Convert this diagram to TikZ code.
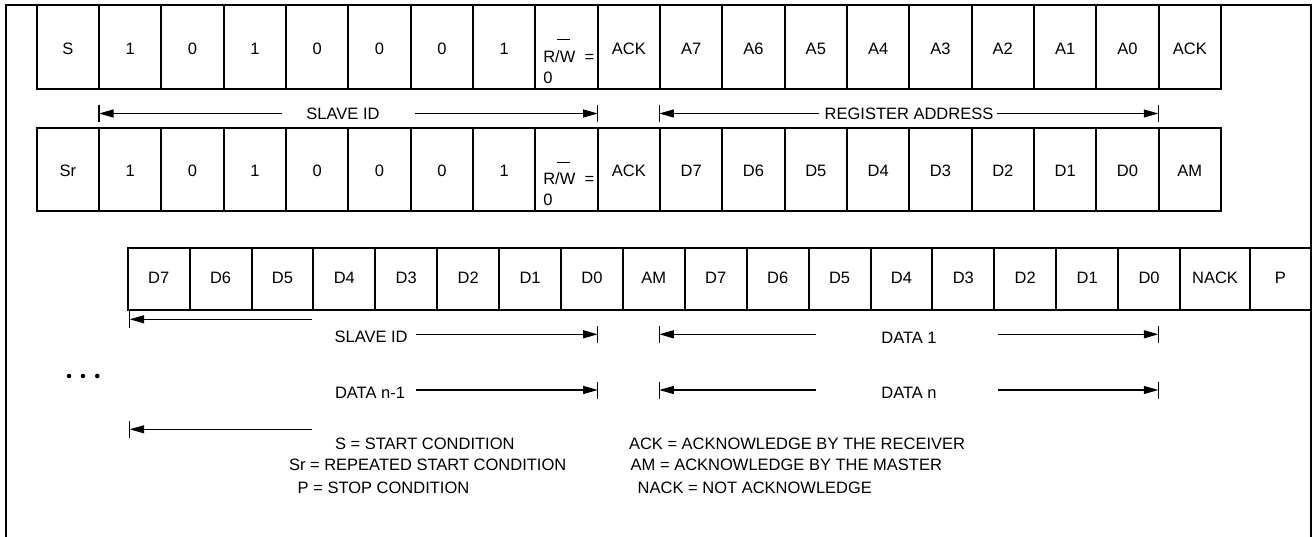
\documentclass[tikz,border=0pt]{standalone}
\usepackage{fontspec}
\setmainfont{Liberation Sans}
\usetikzlibrary{arrows.meta}
\newcommand\dimtick[1]{\draw[dimline] (#1) ++(0,-8.5) -- ++(0,17);}
\begin{document}
\begin{tikzpicture}[x=1pt,y=-1pt,
  every node/.style={font=\fontsize{16.5}{21.3}\selectfont, inner sep=0pt, outer sep=0pt},
  cellbox/.style={draw, line width=2pt, anchor=north west, minimum height=83.4pt, text height=14.8pt, text depth=0pt},
  cellthree/.style={draw, line width=2pt, anchor=north west, minimum height=62pt, text height=11.35pt, text depth=1.4pt},
  dimline/.style={line width=1.1pt},
  dimarrow/.style={dimline, -{Triangle[length=14.5pt,width=8pt]}},
  txt/.style={anchor=base},
  txtw/.style={anchor=base west}]
\useasboundingbox (0,0) rectangle (1314,537);
% outer frame
\draw[line width=2pt] (6,537) -- (6,5.3) -- (1310.7,5.3) -- (1310.7,537);
% row 1
\foreach \t [count=\i] in {S,1,0,1,0,0,0,1,{},ACK,A7,A6,A5,A4,A3,A2,A1,A0,ACK}
  \node[cellbox, minimum width=62.33pt] (a\i) at ({36.7+62.33*(\i-1)},5.3) {\t};
\node[txtw] (rwa) at (543.3,62.1) {R/\rlap{\hspace{-2.5pt}\raisebox{21.7pt}{\rule{12.7pt}{1pt}}}W\ \ =};
\node[txtw] (rwza) at (543.3,83.6) {0};
% row 2
\foreach \t [count=\i] in {Sr,1,0,1,0,0,0,1,{},ACK,D7,D6,D5,D4,D3,D2,D1,D0,AM}
  \node[cellbox, minimum width=62.33pt] (b\i) at ({36.7+62.33*(\i-1)},127.7) {\t};
\node[txtw] (rwb) at (543.3,184.5) {R/\rlap{\hspace{-2.5pt}\raisebox{21.7pt}{\rule{12.7pt}{1pt}}}W\ \ =};
\node[txtw] (rwzb) at (543.3,206) {0};
% row 3
\foreach \t [count=\i] in {D7,D6,D5,D4,D3,D2,D1,D0,AM,D7,D6,D5,D4,D3,D2,D1,D0}
  \node[cellthree, minimum width=61.9pt] (c\i) at ({127.7+61.9*(\i-1)},247.7) {\t};
\node[cellthree, minimum width=70pt] (c18) at (1180,247.7) {NACK};
\node[cellthree, minimum width=60.7pt] (c19) at (1250,247.7) {P};
% slave id (top)
\coordinate (s1l) at (99,113.5); \coordinate (s1a) at (282,113.5);
\coordinate (s1b) at (414.6,113.5); \coordinate (s1r) at (597.7,113.5);
\node[txt] (s1t) at (343,119.2) {SLAVE ID};
\draw[dimarrow] (s1a) -- (s1l); \draw[dimarrow] (s1b) -- (s1r);
\dimtick{s1l}\dimtick{s1r}
% register address
\coordinate (ral) at (659.3,113.5); \coordinate (raa) at (819.4,113.5);
\coordinate (rab) at (997.2,113.5); \coordinate (rar) at (1158.3,113.5);
\node[txt] (rat) at (909,119.5) {REGISTER ADDRESS};
\draw[dimarrow] (raa) -- (ral); \draw[dimarrow] (rab) -- (rar);
\dimtick{ral}\dimtick{rar}
% row 3 arrows
\coordinate (al) at (129.7,319.3); \coordinate (aa) at (311.5,319.3);
\draw[dimarrow] (aa) -- (al); \dimtick{al}
\node[txtw] (s2t) at (334.6,342.7) {SLAVE ID};
\coordinate (s2b) at (415.8,334.3); \coordinate (s2r) at (597.7,334.3);
\draw[dimarrow] (s2b) -- (s2r); \dimtick{s2r}
\coordinate (d1l) at (659.3,334.3); \coordinate (d1a) at (816.4,334.3);
\coordinate (d1b) at (998,334.3); \coordinate (d1r) at (1158.3,334.3);
\node[txt] (d1t) at (909,343) {DATA 1};
\draw[dimarrow] (d1a) -- (d1l); \draw[dimarrow] (d1b) -- (d1r);
\dimtick{d1l}\dimtick{d1r}
% dots
\foreach \x [count=\k] in {69,83,97.3}
  \fill (\x,376) circle[radius=2.3pt];
\node[txtw] (dmt) at (335,398) {DATA n-1};
\coordinate (dmb) at (415.8,390); \coordinate (dmr) at (597.7,390);
\draw[dimarrow] (dmb) -- (dmr); \dimtick{dmr}
\coordinate (dnl) at (659.3,390); \coordinate (dna) at (816.4,390);
\coordinate (dnb) at (998,390); \coordinate (dnr) at (1158.3,390);
\node[txt] (dnt) at (909,398) {DATA n};
\draw[dimarrow] (dna) -- (dnl); \draw[dimarrow] (dnb) -- (dnr);
\dimtick{dnl}\dimtick{dnr}
\coordinate (bl) at (129.7,429.3); \coordinate (ba) at (311.5,429.3);
\draw[dimarrow] (ba) -- (bl); \dimtick{bl}
% legend
\node[txtw] (l1) at (335,449) {S = START CONDITION};
\node[txtw] (l2) at (289,470.7) {Sr = REPEATED START CONDITION};
\node[txtw] (l3) at (297.7,493) {P = STOP CONDITION};
\node[txtw] (l4) at (629,449) {ACK = ACKNOWLEDGE BY THE RECEIVER};
\node[txtw] (l5) at (630.7,470.7) {AM = ACKNOWLEDGE BY THE MASTER};
\node[txtw] (l6) at (637.7,493) {NACK = NOT ACKNOWLEDGE};
\end{tikzpicture}
\end{document}
